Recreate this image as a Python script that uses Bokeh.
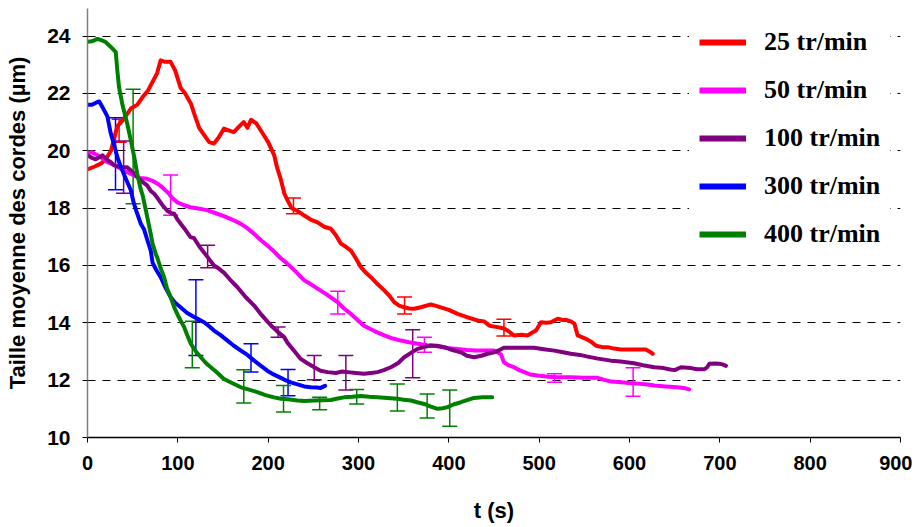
from bokeh.plotting import figure
from bokeh.models import (ColumnDataSource, Whisker, TeeHead, Legend, LegendItem,
                          Range1d, FixedTicker)
from bokeh.embed import file_html
from bokeh.resources import INLINE

# ---------------- data ----------------
t25 = [0, 8, 14.7, 20, 26, 30, 33, 40, 48, 55, 61, 67, 72, 77, 81, 86, 92, 97, 103, 108,
       114.5, 118, 123.6, 128, 134.7, 140, 145, 151, 157, 162, 168, 173, 177, 181, 187, 194,
       200, 206.6, 210, 214, 218, 221.5, 226, 232.5, 240, 247, 254.7, 262, 269.4, 275, 280.5,
       286, 291.6, 297, 302.7, 308, 313.7, 321, 328.5, 334, 339.5, 345, 350.6, 356, 361.7,
       370, 380, 385, 391, 400, 409.7, 420, 432, 439, 445, 454, 461, 465, 472, 480, 487, 492,
       496.5, 502, 508, 513, 520.5, 526, 529.7, 535, 539, 542.6, 551.8, 557, 563, 570, 575.8,
       583, 590.6, 600, 610, 618, 622, 625.7]
v25 = [19.35, 19.45, 19.55, 19.7, 20.0, 20.5, 20.85, 21.1, 21.47, 21.6, 21.87, 22.1, 22.4, 22.7,
       23.15, 23.1, 23.1, 22.8, 22.2, 22.0, 21.64, 21.3, 20.8, 20.6, 20.3, 20.25, 20.45, 20.77,
       20.7, 20.65, 20.85, 21.0, 20.8, 21.08, 20.95, 20.6, 20.3, 19.85, 19.4, 19.0, 18.5, 18.27,
       18.0, 17.9, 17.74, 17.6, 17.5, 17.35, 17.28, 17.05, 16.76, 16.65, 16.52, 16.25, 15.94,
       15.75, 15.59, 15.35, 15.13, 14.95, 14.72, 14.6, 14.54, 14.5, 14.49, 14.55, 14.64, 14.6,
       14.54, 14.45, 14.31, 14.2, 14.08, 14.05, 13.9, 13.85, 13.8, 13.73, 13.56, 13.58, 13.56,
       13.65, 13.73, 14.02, 14.0, 14.02, 14.14, 14.1, 14.1, 14.05, 13.97, 13.56, 13.44, 13.35,
       13.2, 13.15, 13.15, 13.1, 13.07, 13.07, 13.07, 13.07, 13.0, 12.92]

t50 = [0, 5, 11, 16, 22, 30, 37, 44, 51.6, 58, 66, 72, 77.5, 83, 88.6, 94, 99.6, 107, 114, 124,
       133, 142, 151, 160, 169.8, 177, 184.5, 192, 199, 206, 214, 220, 230, 240, 247, 254.7,
       265, 276.8, 284, 291.6, 299, 306, 317, 328.5, 338, 347, 356, 365.4, 376, 387.6, 398,
       409.7, 420, 430, 439, 450, 457.7, 461, 466, 472, 478, 483.5, 490, 498.3, 510, 520, 535,
       550, 564.8, 572, 580, 590.6, 600, 612.6, 620, 627.5, 640, 653, 660, 666]
v50 = [19.92, 19.95, 19.84, 19.75, 19.6, 19.5, 19.37, 19.25, 19.14, 19.05, 19.02, 18.95, 18.85,
       18.72, 18.55, 18.35, 18.2, 18.1, 18.03, 17.98, 17.92, 17.82, 17.72, 17.6, 17.45, 17.3,
       17.1, 16.88, 16.7, 16.5, 16.25, 16.1, 15.8, 15.48, 15.35, 15.19, 14.98, 14.72, 14.5,
       14.31, 14.1, 13.9, 13.72, 13.56, 13.45, 13.38, 13.32, 13.27, 13.22, 13.18, 13.12, 13.09,
       13.05, 13.03, 13.03, 13.03, 12.9, 12.62, 12.52, 12.45, 12.35, 12.28, 12.2, 12.16, 12.12,
       12.1, 12.1, 12.08, 12.08, 12.01, 11.95, 11.93, 11.9, 11.87, 11.85, 11.81, 11.78, 11.75,
       11.73, 11.68]

t100 = [0, 5, 9, 14.7, 16.6, 21, 25.8, 29.5, 34, 37, 44, 48, 52, 55, 59, 66, 70, 73.8, 77.5, 83,
        88.6, 93, 96, 99.6, 107, 114, 118, 124, 133, 140, 145, 151, 158, 166, 175, 184.5, 192,
        199, 205, 210, 217.7, 221.5, 228, 236, 243, 251, 258, 265.8, 275, 282, 288, 297, 306,
        314, 321, 328, 335.9, 344, 350.6, 358, 365.4, 372, 380, 387, 395, 404, 413.4, 420, 428,
        436, 443, 450, 456, 461, 470, 480, 494.5, 505, 516.8, 525, 535, 545, 553.7, 565, 579.5,
        590, 605, 615, 627.5, 638, 645, 650, 657, 668, 675, 683, 686, 688.4, 695, 699.4, 703, 706.8]
v100 = [19.84, 19.75, 19.7, 19.8, 19.84, 19.7, 19.6, 19.49, 19.45, 19.43, 19.42, 19.31, 19.2,
        19.08, 18.96, 18.79, 18.6, 18.5, 18.35, 18.1, 17.9, 17.82, 17.8, 17.6, 17.3, 16.99, 16.95,
        16.65, 16.29, 16.0, 15.9, 15.75, 15.5, 15.24, 14.9, 14.6, 14.3, 14.05, 13.85, 13.7, 13.5,
        13.3, 13.05, 12.74, 12.6, 12.45, 12.33, 12.28, 12.25, 12.3, 12.28, 12.25, 12.22, 12.25,
        12.28, 12.35, 12.45, 12.6, 12.8, 12.95, 13.09, 13.15, 13.21, 13.2, 13.15, 13.05, 12.97,
        12.85, 12.8, 12.85, 12.92, 12.97, 13.05, 13.13, 13.13, 13.13, 13.13, 13.08, 13.03, 12.98,
        12.92, 12.88, 12.82, 12.75, 12.68, 12.65, 12.59, 12.52, 12.45, 12.42, 12.37, 12.35, 12.45,
        12.42, 12.38, 12.38, 12.45, 12.57, 12.58, 12.57, 12.55, 12.5]

t300 = [0, 5, 11, 13, 16.6, 22, 25.8, 29.5, 33, 37, 42.4, 48, 51, 54, 59, 62.7, 66.4, 70, 72, 76,
        81, 86, 92, 97, 103, 110, 118, 123, 129, 134, 140, 147, 155, 162, 169.8, 177, 184.5, 192,
        199, 206, 214, 217.7, 225, 232.5, 240, 247, 254, 258, 263]
v300 = [21.6, 21.6, 21.7, 21.72, 21.52, 21.2, 20.6, 20.2, 19.78, 19.43, 19.02, 18.62, 18.2, 17.9,
        17.45, 17.25, 16.87, 16.52, 16.1, 15.85, 15.59, 15.25, 14.9, 14.7, 14.54, 14.35, 14.2,
        14.12, 14.02, 13.9, 13.73, 13.58, 13.38, 13.2, 13.03, 12.88, 12.68, 12.5, 12.33, 12.2,
        12.08, 12.02, 11.92, 11.85, 11.78, 11.75, 11.74, 11.73, 11.8]

t400 = [0, 5, 7.4, 11, 16, 20, 25.8, 31.3, 33, 35, 38.7, 44, 48, 51.6, 55, 59, 61, 64.6, 70, 72,
        75.6, 77.5, 81, 84.8, 88, 92, 96, 101, 107, 110, 114.4, 120, 125.5, 131, 136.5, 144, 151,
        160, 169.8, 178, 188, 197, 206.6, 214, 222, 232.5, 240, 251, 260, 269.4, 277, 284, 293,
        302.7, 312, 321, 332, 343, 350, 358, 365, 372.7, 380, 387.6, 393, 398.7, 405, 413.4, 420,
        428, 437, 448]
v400 = [23.8, 23.82, 23.85, 23.9, 23.85, 23.79, 23.62, 23.44, 22.8, 22.2, 21.6, 20.94, 20.36,
        19.8, 19.2, 18.65, 18.45, 17.92, 17.1, 16.76, 16.4, 16.25, 15.9, 15.59, 15.2, 14.9, 14.54,
        14.2, 13.85, 13.6, 13.27, 13.0, 12.8, 12.6, 12.45, 12.25, 12.04, 11.9, 11.75, 11.68, 11.58,
        11.48, 11.4, 11.35, 11.33, 11.29, 11.27, 11.29, 11.3, 11.31, 11.36, 11.4, 11.42, 11.45,
        11.42, 11.4, 11.38, 11.35, 11.32, 11.29, 11.23, 11.17, 11.08, 11.0, 11.02, 11.06, 11.15,
        11.23, 11.3, 11.38, 11.4, 11.4]

# error bars (t, lower, upper)
e25_t = [35, 228, 351, 461]
e25_lo = [20.3, 17.8, 14.31, 13.54]
e25_hi = [21.1, 18.35, 14.9, 14.12]
e50_t = [92, 277, 373, 517, 604]
e50_lo = [17.75, 14.31, 12.97, 11.93, 11.44]
e50_hi = [19.15, 15.1, 13.5, 12.22, 12.43]
e100_t = [40, 133, 211, 251, 286, 360]
e100_lo = [18.52, 15.92, 13.5, 12.01, 11.66, 12.08]
e100_hi = [20.34, 16.7, 13.85, 12.86, 12.86, 13.76]
e300_t = [31, 120, 181, 222]
e300_lo = [18.64, 12.86, 12.28, 11.46]
e300_hi = [21.15, 15.5, 13.27, 12.37]
e400_t = [50.5, 116, 173, 217, 257, 298, 343, 376, 401]
e400_lo = [18.15, 12.43, 11.2, 10.89, 10.97, 11.17, 10.92, 10.68, 10.39]
e400_hi = [22.14, 14.05, 12.36, 11.81, 11.4, 11.67, 11.87, 11.52, 11.66]

labels = ["25 tr/min", "50 tr/min", "100 tr/min", "300 tr/min", "400 tr/min"]
colors = ["#FF0000", "#FF00FF", "#800080", "#0000FF", "#008000"]
x_ticks = [0, 100, 200, 300, 400, 500, 600, 700, 800, 900]
y_ticks = [10, 12, 14, 16, 18, 20, 22, 24]

series = [(t25, v25), (t50, v50), (t100, v100), (t300, v300), (t400, v400)]
errs = [(e25_t, e25_lo, e25_hi), (e50_t, e50_lo, e50_hi), (e100_t, e100_lo, e100_hi),
        (e300_t, e300_lo, e300_hi), (e400_t, e400_lo, e400_hi)]

# ---------------- figure ----------------
p = figure(width=912, height=527, output_backend="svg", toolbar_location=None,
           x_range=Range1d(0, 900), y_range=Range1d(10, 24.96),
           min_border_left=87, min_border_right=12, min_border_top=8, min_border_bottom=90)
p.outline_line_color = None
p.background_fill_color = "white"
p.border_fill_color = "white"

p.xgrid.grid_line_color = None
p.ygrid.grid_line_color = "black"
p.ygrid.grid_line_dash = "8 7"
p.ygrid.grid_line_width = 1

for (tt, vv), col in zip(series, colors):
    p.line(tt, vv, line_color=col, line_width=4, line_join="round", line_cap="round")

for (et, elo, ehi), col in zip(errs, colors):
    src = ColumnDataSource(dict(base=et, lower=elo, upper=ehi))
    w = Whisker(base="base", lower="lower", upper="upper", source=src, dimension="height",
                line_color=col, line_width=1.5,
                upper_head=TeeHead(size=15, line_color=col, line_width=1.5),
                lower_head=TeeHead(size=15, line_color=col, line_width=1.5))
    p.add_layout(w)

# legend (proxy renderers holding a single NaN point, drawn only in the legend)
nan = float("nan")
items = []
for lab, col in zip(labels, colors):
    r = p.line([nan], [nan], line_color=col, line_width=6)
    items.append(LegendItem(label=lab, renderers=[r]))
leg = Legend(items=items, location=(602, 178), orientation="vertical",
             glyph_width=47, glyph_height=30, label_height=30, spacing=18,
             padding=10, margin=0, label_standoff=18,
             label_text_font="Liberation Serif", label_text_font_style="bold",
             label_text_font_size="26px", label_text_color="black",
             background_fill_color="white", background_fill_alpha=1.0,
             border_line_alpha=0)
p.add_layout(leg)

# axes
font = "Liberation Sans"
p.xaxis.ticker = FixedTicker(ticks=x_ticks)
p.yaxis.ticker = FixedTicker(ticks=y_ticks)
p.xaxis.minor_tick_line_color = None
p.yaxis.minor_tick_line_color = None

p.xaxis.axis_label = "t (s)"
p.yaxis.axis_label = "Taille moyenne des cordes (µm)"
for ax in (p.xaxis, p.yaxis):
    ax.axis_label_text_font = font
    ax.axis_label_text_font_style = "bold"
    ax.axis_label_text_font_size = "22px"
    ax.axis_label_text_color = "black"
    ax.major_label_text_font = font
    ax.major_label_text_font_style = "bold"
    ax.major_label_text_color = "black"
    ax.major_tick_in = 0
    ax.major_tick_out = 5
    ax.major_tick_line_color = "black"

p.xaxis.major_label_text_font_size = "20px"
p.yaxis.major_label_text_font_size = "21px"
p.xaxis.axis_line_color = "black"
p.xaxis.axis_line_width = 1.5
p.yaxis.axis_line_color = "#808080"
p.yaxis.axis_line_width = 1.5
p.xaxis.major_label_standoff = 13
p.yaxis.major_label_standoff = 12
p.xaxis.axis_label_standoff = 25
p.yaxis.axis_label_standoff = 14

open("out.html", "w").write(file_html(p, INLINE))
